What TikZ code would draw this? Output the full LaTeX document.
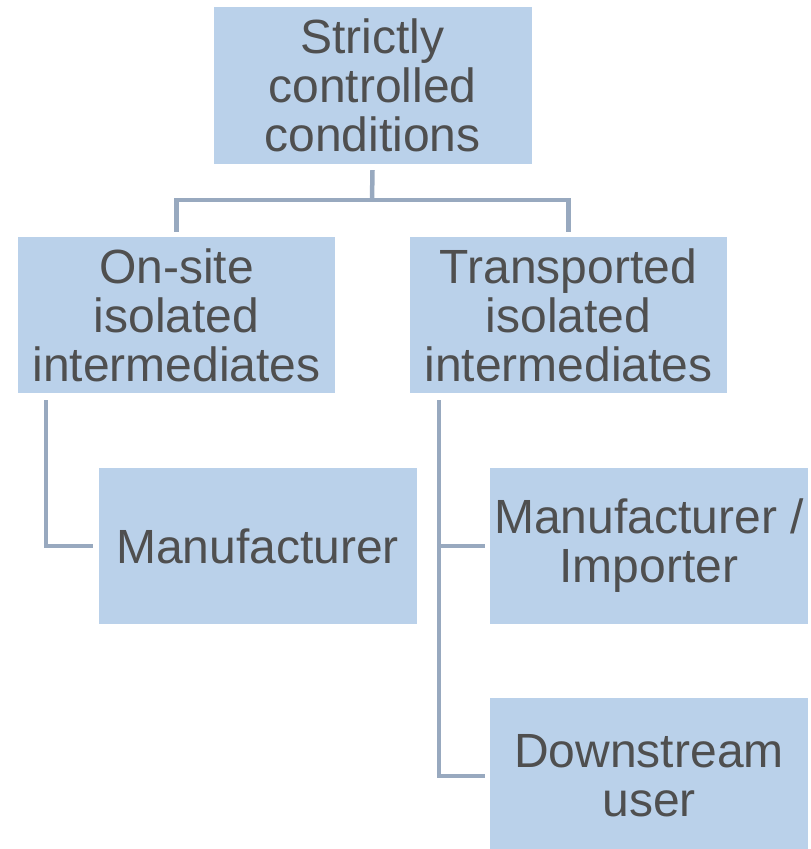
\documentclass[tikz,border=0pt]{standalone}
\usepackage{fontspec}
\setmainfont{Liberation Sans}
\usetikzlibrary{calc}
\definecolor{boxfill}{HTML}{BAD1EA}
\definecolor{linkcol}{HTML}{98A9BF}
\definecolor{textcol}{HTML}{4F4F4F}

\begin{document}
\begin{tikzpicture}[x=1pt, y=-1pt,
    box/.style={fill=boxfill, text=textcol, minimum width=318pt, minimum height=156pt,
                inner sep=0pt, align=center, font=\fontsize{48}{49}\selectfont},
    link/.style={draw=linkcol, line width=4.5pt}]
			\useasboundingbox (0,0) rectangle (811,849);

			% Draw the boxes
			\node[box, minimum height=157pt] (strict) at (372.5, 85.5) {Strictly\\controlled\\conditions};

			\node[box, minimum width=317pt] (onsite) at (176.5, 315) {On-site\\isolated\\intermediates};
			\node[box, minimum width=317pt] (transp) at (568.5, 315) {Transported\\isolated\\intermediates};

			\node[box] (manuf) at (257.5, 546) {Manufacturer};
			\node[box] (manimp) at (649, 546) {Manufacturer /\\Importer};
			\node[box] (down) at (649, 776) {Downstream\\user};

			% Draw the links from the top box
			\coordinate (split) at (372, 200);
			\draw[link] ($(strict.south)+(0,6)$) -- (split);
			\draw[link] ($(onsite.north)+(0,-5)$) -- (onsite.north |- split)
			            -- (transp.north |- split) -- ($(transp.north)+(0,-5)$);

			% Draw the links to the lower boxes
			\coordinate (onsitefoot) at ($(onsite.south west)+(28,7)$);
			\coordinate (transpfoot) at ($(transp.south west)+(29,7)$);
			\draw[link] (onsitefoot) |- ($(manuf.west)+(-5,0)$);
			\draw[link] (transpfoot) |- ($(down.west)+(-5,0)$);
			\draw[link] (transpfoot |- manimp.west) -- ($(manimp.west)+(-5,0)$);

		\end{tikzpicture}
\end{document}
